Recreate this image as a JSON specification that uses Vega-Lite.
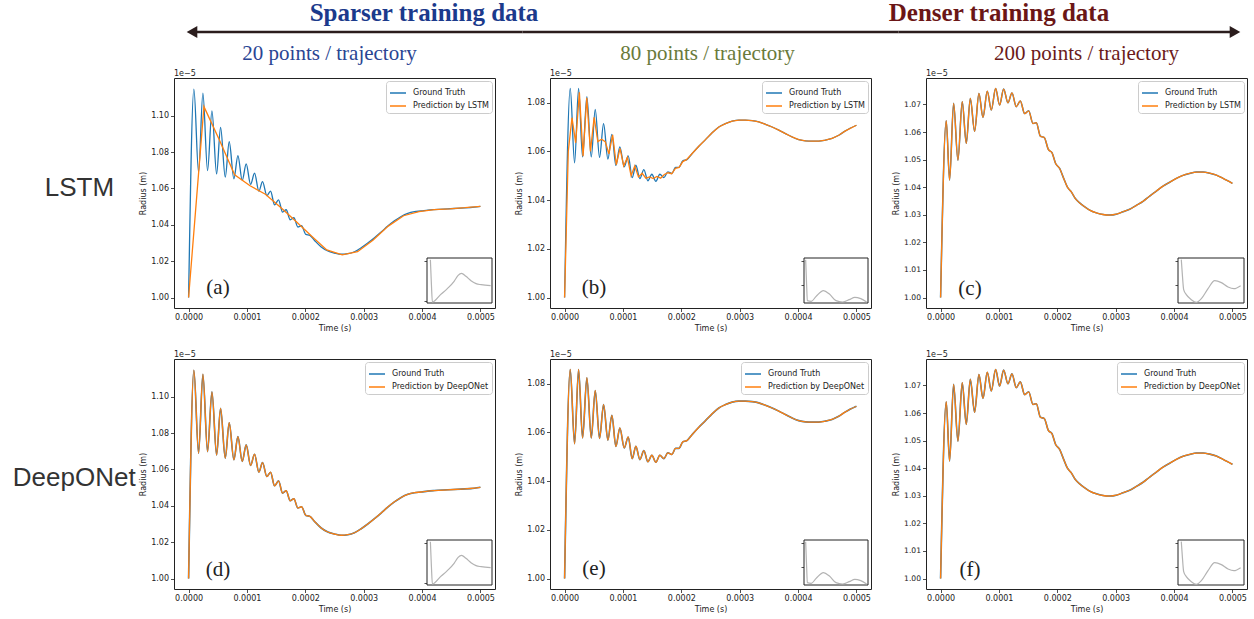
{
 "$schema": "https://vega.github.io/schema/vega-lite/v6.json",
 "padding": {"left": 12, "top": 0, "right": 0, "bottom": 0},
 "background": "white",
 "datasets": {
  "gt1": [
   {"t":0,"r":1.0},{"t":0.0000091,"r":1.1146},{"t":0.0000171,"r":1.0689},{"t":0.0000245,"r":1.1124},{"t":0.0000325,"r":1.0698},
   {"t":0.00004,"r":1.1027},{"t":0.000048,"r":1.068},{"t":0.0000548,"r":1.0936},{"t":0.0000628,"r":1.0662},{"t":0.0000696,"r":1.0857},
   {"t":0.0000776,"r":1.0653},{"t":0.0000845,"r":1.0781},{"t":0.0000919,"r":1.0644},{"t":0.0000987,"r":1.0735},{"t":0.0001062,"r":1.0622},
   {"t":0.000113,"r":1.0684},{"t":0.0001204,"r":1.0585},{"t":0.0001267,"r":1.0638},{"t":0.0001341,"r":1.0561},{"t":0.0001404,"r":1.0585},
   {"t":0.0001473,"r":1.051},{"t":0.0001541,"r":1.0537},{"t":0.000161,"r":1.047},{"t":0.0001672,"r":1.0483},{"t":0.0001741,"r":1.0428},
   {"t":0.0001804,"r":1.0439},{"t":0.0001872,"r":1.0388},{"t":0.0001935,"r":1.0395},{"t":0.0002009,"r":1.0347},{"t":0.0002078,"r":1.0342},
   {"t":0.0002158,"r":1.0314},{"t":0.0002272,"r":1.0278},{"t":0.0002386,"r":1.0256},{"t":0.00025,"r":1.0245},{"t":0.0002614,"r":1.0238},
   {"t":0.0002728,"r":1.0241},{"t":0.0002842,"r":1.0252},{"t":0.0002957,"r":1.0274},{"t":0.000307,"r":1.03},{"t":0.0003185,"r":1.0329},
   {"t":0.0003299,"r":1.036},{"t":0.0003413,"r":1.0393},{"t":0.0003527,"r":1.0422},{"t":0.0003642,"r":1.0446},{"t":0.0003756,"r":1.0463},
   {"t":0.000387,"r":1.0472},{"t":0.0003984,"r":1.0476},{"t":0.0004098,"r":1.0481},{"t":0.0004212,"r":1.0484},{"t":0.000444,"r":1.0488},
   {"t":0.0004669,"r":1.0492},{"t":0.0004897,"r":1.0497},{"t":0.0005,"r":1.0502}
  ],
  "lstm1": [
   {"t":0,"r":1.0},{"t":0.0000263,"r":1.105},{"t":0.0000526,"r":1.0868},{"t":0.0000789,"r":1.0675},{"t":0.0001053,"r":1.0615},
   {"t":0.0001316,"r":1.0568},{"t":0.0001579,"r":1.0495},{"t":0.0001842,"r":1.0418},{"t":0.0002105,"r":1.0338},{"t":0.0002368,"r":1.0262},
   {"t":0.0002632,"r":1.0235},{"t":0.0002895,"r":1.0252},{"t":0.0003158,"r":1.0315},{"t":0.0003421,"r":1.0393},{"t":0.0003684,"r":1.045},
   {"t":0.0003947,"r":1.0472},{"t":0.0004211,"r":1.0484},{"t":0.0004474,"r":1.0488},{"t":0.0004737,"r":1.0494},{"t":0.0005,"r":1.0502}
  ],
  "gt2": [
   {"t":0,"r":1.0},{"t":0.0000097,"r":1.0858},{"t":0.0000171,"r":1.0553},{"t":0.000024,"r":1.0858},{"t":0.0000308,"r":1.0577},
   {"t":0.0000382,"r":1.0824},{"t":0.0000457,"r":1.0577},{"t":0.0000525,"r":1.0772},{"t":0.0000599,"r":1.0575},{"t":0.0000668,"r":1.0714},
   {"t":0.0000742,"r":1.0568},{"t":0.000081,"r":1.067},{"t":0.0000879,"r":1.0542},{"t":0.0000947,"r":1.0618},{"t":0.0001022,"r":1.0536},
   {"t":0.000109,"r":1.0581},{"t":0.0001159,"r":1.0492},{"t":0.0001221,"r":1.0543},{"t":0.000129,"r":1.0488},{"t":0.0001358,"r":1.0525},
   {"t":0.0001427,"r":1.0479},{"t":0.0001495,"r":1.0506},{"t":0.0001564,"r":1.0477},{"t":0.0001632,"r":1.0506},{"t":0.0001701,"r":1.0492},
   {"t":0.0001769,"r":1.0516},{"t":0.0001838,"r":1.0509},{"t":0.00019,"r":1.0534},{"t":0.0001958,"r":1.0534},{"t":0.0002026,"r":1.0561},
   {"t":0.0002095,"r":1.0566},{"t":0.0002186,"r":1.0591},{"t":0.00023,"r":1.0621},{"t":0.0002414,"r":1.0648},{"t":0.0002528,"r":1.0676},
   {"t":0.0002643,"r":1.07},{"t":0.0002757,"r":1.0714},{"t":0.0002871,"r":1.0724},{"t":0.0002985,"r":1.0728},{"t":0.0003099,"r":1.0728},
   {"t":0.0003213,"r":1.0726},{"t":0.0003327,"r":1.0721},{"t":0.0003442,"r":1.0711},{"t":0.0003556,"r":1.07},{"t":0.000367,"r":1.0687},
   {"t":0.0003784,"r":1.0673},{"t":0.0003898,"r":1.0659},{"t":0.0004012,"r":1.0648},{"t":0.0004127,"r":1.0643},{"t":0.0004241,"r":1.0642},
   {"t":0.0004355,"r":1.0642},{"t":0.0004469,"r":1.0646},{"t":0.0004583,"r":1.0653},{"t":0.0004697,"r":1.0666},{"t":0.0004812,"r":1.0684},
   {"t":0.0005,"r":1.0707}
  ],
  "lstm2": [
   {"t":0,"r":1.0},{"t":0.00000633,"r":1.06},{"t":0.00001266,"r":1.0738},{"t":0.00001899,"r":1.0635},{"t":0.00002532,"r":1.0842},
   {"t":0.00003165,"r":1.058},{"t":0.00003797,"r":1.082},{"t":0.0000443,"r":1.06},{"t":0.00005063,"r":1.074},{"t":0.00005696,"r":1.064},
   {"t":0.00006329,"r":1.065},{"t":0.00006962,"r":1.064},{"t":0.00007595,"r":1.059},{"t":0.00008228,"r":1.0668},{"t":0.00008861,"r":1.0545},
   {"t":0.00009494,"r":1.0612},{"t":0.00010127,"r":1.054},{"t":0.00010759,"r":1.0575},{"t":0.00011392,"r":1.05},{"t":0.00012025,"r":1.054},
   {"t":0.00012658,"r":1.0495},{"t":0.00013291,"r":1.051},{"t":0.00013924,"r":1.049},{"t":0.00014557,"r":1.0495},{"t":0.0001519,"r":1.0488},
   {"t":0.00015823,"r":1.0497},{"t":0.00016456,"r":1.049},{"t":0.00017089,"r":1.0505},{"t":0.00017722,"r":1.0512},{"t":0.00018354,"r":1.0508},
   {"t":0.00018987,"r":1.053},{"t":0.0001962,"r":1.0534},{"t":0.00020253,"r":1.0558},{"t":0.00020886,"r":1.0566},
   {"t":0.0002186,"r":1.0591},{"t":0.00023,"r":1.0621},{"t":0.0002414,"r":1.0648},{"t":0.0002528,"r":1.0676},
   {"t":0.0002643,"r":1.07},{"t":0.0002757,"r":1.0714},{"t":0.0002871,"r":1.0724},{"t":0.0002985,"r":1.0728},{"t":0.0003099,"r":1.0728},
   {"t":0.0003213,"r":1.0726},{"t":0.0003327,"r":1.0721},{"t":0.0003442,"r":1.0711},{"t":0.0003556,"r":1.07},{"t":0.000367,"r":1.0687},
   {"t":0.0003784,"r":1.0673},{"t":0.0003898,"r":1.0659},{"t":0.0004012,"r":1.0648},{"t":0.0004127,"r":1.0643},{"t":0.0004241,"r":1.0642},
   {"t":0.0004355,"r":1.0642},{"t":0.0004469,"r":1.0646},{"t":0.0004583,"r":1.0653},{"t":0.0004697,"r":1.0666},{"t":0.0004812,"r":1.0684},
   {"t":0.0005,"r":1.0707}
  ],
  "gt3": [
   {"t":0,"r":1.0},{"t":0.0000097,"r":1.0641},{"t":0.0000154,"r":1.0426},{"t":0.0000223,"r":1.0704},{"t":0.0000297,"r":1.0498},
   {"t":0.0000371,"r":1.071},{"t":0.000044,"r":1.0559},{"t":0.0000509,"r":1.0722},{"t":0.0000583,"r":1.0603},{"t":0.0000657,"r":1.074},
   {"t":0.0000726,"r":1.0653},{"t":0.00008,"r":1.0748},{"t":0.0000869,"r":1.068},{"t":0.0000943,"r":1.0758},{"t":0.0001011,"r":1.0698},
   {"t":0.000108,"r":1.0756},{"t":0.0001154,"r":1.0706},{"t":0.0001223,"r":1.0742},{"t":0.0001297,"r":1.0692},{"t":0.0001366,"r":1.0713},
   {"t":0.000144,"r":1.0667},{"t":0.0001509,"r":1.0677},{"t":0.0001583,"r":1.0631},{"t":0.000164,"r":1.0634},{"t":0.0001709,"r":1.0585},
   {"t":0.0001777,"r":1.058},{"t":0.0001846,"r":1.0537},{"t":0.0001909,"r":1.0525},{"t":0.0001971,"r":1.0486},{"t":0.000204,"r":1.0468},
   {"t":0.0002109,"r":1.0432},{"t":0.0002171,"r":1.0401},{"t":0.000224,"r":1.0383},{"t":0.0002309,"r":1.0359},{"t":0.0002383,"r":1.0343},
   {"t":0.0002469,"r":1.0329},{"t":0.0002554,"r":1.0317},{"t":0.0002669,"r":1.0307},{"t":0.0002783,"r":1.0301},{"t":0.0002897,"r":1.0299},
   {"t":0.0003011,"r":1.0302},{"t":0.0003126,"r":1.0311},{"t":0.000324,"r":1.032},{"t":0.0003354,"r":1.0334},{"t":0.0003469,"r":1.0349},
   {"t":0.0003583,"r":1.0368},{"t":0.0003697,"r":1.0386},{"t":0.0003811,"r":1.0404},{"t":0.0003926,"r":1.0418},{"t":0.000404,"r":1.0432},
   {"t":0.0004154,"r":1.0443},{"t":0.0004269,"r":1.045},{"t":0.0004383,"r":1.0455},{"t":0.0004497,"r":1.0455},{"t":0.0004611,"r":1.0451},
   {"t":0.0004726,"r":1.0444},{"t":0.000484,"r":1.0432},{"t":0.0005,"r":1.0414}
  ],
  "ins1": [
   {"u":0.052,"v":0.963},{"u":0.068,"v":0.41},{"u":0.083,"v":0.02},{"u":0.208,"v":0.185},{"u":0.3125,"v":0.319},{"u":0.417,"v":0.481},
   {"u":0.479,"v":0.615},{"u":0.531,"v":0.659},{"u":0.599,"v":0.593},{"u":0.677,"v":0.496},{"u":0.755,"v":0.43},{"u":0.833,"v":0.407},{"u":0.979,"v":0.385}
  ],
  "ins2": [
   {"u":0.026,"v":0.963},{"u":0.041,"v":0.407},{"u":0.052,"v":0.052},{"u":0.113,"v":0.037},{"u":0.19,"v":0.148},{"u":0.304,"v":0.274},
   {"u":0.397,"v":0.2},{"u":0.5,"v":0.052},{"u":0.603,"v":0.022},{"u":0.707,"v":0.074},{"u":0.794,"v":0.126},{"u":0.887,"v":0.096},{"u":0.979,"v":0.022}
  ],
  "ins3": [
   {"u":0.05,"v":0.963},{"u":0.066,"v":0.63},{"u":0.086,"v":0.296},{"u":0.126,"v":0.185},{"u":0.202,"v":0.074},{"u":0.278,"v":0.015},
   {"u":0.354,"v":0.096},{"u":0.455,"v":0.319},{"u":0.556,"v":0.496},{"u":0.657,"v":0.452},{"u":0.758,"v":0.356},{"u":0.848,"v":0.319},{"u":0.949,"v":0.385}
  ]
 },
 "config": {
  "font": "DejaVu Sans",
  "view": {"stroke": "#222222", "strokeWidth": 1},
  "axis": {"domain": false, "grid": false, "ticks": true, "tickColor": "#222222", "tickSize": 3.5, "tickWidth": 0.8,
           "labelFont": "DejaVu Sans", "labelFontSize": 8, "labelColor": "#222222", "labelPadding": 2,
           "titleFont": "DejaVu Sans", "titleFontSize": 8, "titleFontWeight": "normal", "titleColor": "#222222", "titlePadding": 3,
           "labelFlush": false, "labelOverlap": false, "labelSeparation": 0},
  "axisY": {"labelOverlap": false},
  "axisLeft": {"labelOverlap": false},
  "axisQuantitative": {"labelOverlap": false},
  "legend": {"orient": "top-right", "offset": 3, "symbolType": "stroke", "symbolSize": 256, "symbolStrokeWidth": 1.5,
             "labelFont": "DejaVu Sans", "labelFontSize": 8, "labelColor": "#222222", "labelOffset": 6, "padding": 3, "rowPadding": -2,
             "fillColor": "rgba(255,255,255,0.85)", "strokeColor": "#cccccc", "cornerRadius": 3}
 },
 "bounds": "flush",
 "columns": 3,
 "spacing": {"row": 51, "column": 55},
 "resolve": {"scale": {"color": "independent"}},
 "concat": [
  {
   "width": 321, "height": 26,
   "view": {"stroke": null},
   "data": {"values": [{}]},
   "layer": [
    {"mark": {"type": "rule", "color": "#2b1d1d", "strokeWidth": 2.5},
     "encoding": {"x": {"datum": 0.0561, "type": "quantitative", "scale": {"domain": [0, 1], "nice": false, "zero": false}, "axis": null},
                  "x2": {"datum": 1.0857},
                  "y": {"datum": -0.1923, "type": "quantitative", "scale": {"domain": [0, 1], "nice": false, "zero": false}, "axis": null}}},
    {"mark": {"type": "point", "shape": "triangle-left", "filled": true, "size": 150, "color": "#2b1d1d", "opacity": 1},
     "encoding": {"x": {"datum": 0.0561, "type": "quantitative"}, "y": {"datum": -0.1923, "type": "quantitative"}}},
    {"mark": {"type": "text", "font": "Liberation Serif", "fontWeight": "bold", "fontSize": 25, "color": "#1b3a8c", "align": "center", "baseline": "alphabetic"},
     "encoding": {"x": {"datum": 0.7788, "type": "quantitative"}, "y": {"datum": 0.25, "type": "quantitative"}, "text": {"value": "Sparser training data"}}},
    {"mark": {"type": "text", "font": "Liberation Serif", "fontSize": 21, "color": "#2a4593", "align": "center", "baseline": "alphabetic"},
     "encoding": {"x": {"datum": 0.4844, "type": "quantitative"}, "y": {"datum": -1.25, "type": "quantitative"}, "text": {"value": "20 points / trajectory"}}}
   ]
  },
  {
   "width": 321, "height": 26,
   "view": {"stroke": null},
   "data": {"values": [{}]},
   "layer": [
    {"mark": {"type": "rule", "color": "#2b1d1d", "strokeWidth": 2.5},
     "encoding": {"x": {"datum": -0.0857, "type": "quantitative", "scale": {"domain": [0, 1], "nice": false, "zero": false}, "axis": null},
                  "x2": {"datum": 1.0857},
                  "y": {"datum": -0.1923, "type": "quantitative", "scale": {"domain": [0, 1], "nice": false, "zero": false}, "axis": null}}},
    {"mark": {"type": "text", "font": "Liberation Serif", "fontSize": 21, "color": "#6a7a3a", "align": "center", "baseline": "alphabetic"},
     "encoding": {"x": {"datum": 0.4907, "type": "quantitative"}, "y": {"datum": -1.25, "type": "quantitative"}, "text": {"value": "80 points / trajectory"}}}
   ]
  },
  {
   "width": 321, "height": 26,
   "view": {"stroke": null},
   "data": {"values": [{}]},
   "layer": [
    {"mark": {"type": "rule", "color": "#2b1d1d", "strokeWidth": 2.5},
     "encoding": {"x": {"datum": -0.0857, "type": "quantitative", "scale": {"domain": [0, 1], "nice": false, "zero": false}, "axis": null},
                  "x2": {"datum": 0.9626},
                  "y": {"datum": -0.1923, "type": "quantitative", "scale": {"domain": [0, 1], "nice": false, "zero": false}, "axis": null}}},
    {"mark": {"type": "point", "shape": "triangle-right", "filled": true, "size": 150, "color": "#2b1d1d", "opacity": 1},
     "encoding": {"x": {"datum": 0.9626, "type": "quantitative"}, "y": {"datum": -0.1923, "type": "quantitative"}}},
    {"mark": {"type": "text", "font": "Liberation Serif", "fontWeight": "bold", "fontSize": 25, "color": "#6b1616", "align": "center", "baseline": "alphabetic"},
     "encoding": {"x": {"datum": 0.2274, "type": "quantitative"}, "y": {"datum": 0.25, "type": "quantitative"}, "text": {"value": "Denser training data"}}},
    {"mark": {"type": "text", "font": "Liberation Serif", "fontSize": 21, "color": "#6b1a1a", "align": "center", "baseline": "alphabetic"},
     "encoding": {"x": {"datum": 0.5, "type": "quantitative"}, "y": {"datum": -1.25, "type": "quantitative"}, "text": {"value": "200 points / trajectory"}}}
   ]
  },
  {
   "width": 321, "height": 230,
   "resolve": {"scale": {"x": "independent", "y": "independent"}},
   "layer": [
    {"layer": [
      {"data": {"name": "gt1"}, "mark": {"type": "line", "interpolate": "monotone", "strokeWidth": 1.3},
       "encoding": {"x": {"field": "t", "type": "quantitative", "scale": {"domain": [-0.000025, 0.000525], "nice": false, "zero": false}, "axis": {"values": [0, 0.0001, 0.0002, 0.0003, 0.0004, 0.0005], "format": ".4f", "title": "Time (s)"}},
                    "y": {"field": "r", "type": "quantitative", "scale": {"domain": [0.99425, 1.12075], "nice": false, "zero": false}, "axis": {"values": [1, 1.02, 1.04, 1.06, 1.08, 1.1], "format": ".2f", "title": "Radius (m)", "labelOverlap": false}},
                    "color": {"datum": "Ground Truth", "type": "nominal", "scale": {"domain": ["Ground Truth", "Prediction by LSTM"], "range": ["#1f77b4", "#ff7f0e"]}, "legend": {"title": null}}}},
      {"data": {"name": "lstm1"}, "mark": {"type": "line", "strokeWidth": 1.3},
       "encoding": {"x": {"field": "t", "type": "quantitative"}, "y": {"field": "r", "type": "quantitative"}, "color": {"datum": "Prediction by LSTM", "type": "nominal"}}},
      {"data": {"values": [{}]}, "mark": {"type": "text", "font": "Liberation Serif", "fontSize": 21, "color": "#222222", "align": "center", "baseline": "alphabetic"},
       "encoding": {"x": {"datum": 0.0000504, "type": "quantitative"}, "y": {"datum": 1.00195, "type": "quantitative"}, "text": {"value": "(a)"}}},
      {"data": {"values": [{}]}, "mark": {"type": "text", "fontSize": 8, "color": "#222222", "align": "left", "baseline": "alphabetic", "dy": -2},
       "encoding": {"x": {"datum": -0.000025, "type": "quantitative"}, "y": {"datum": 1.12075, "type": "quantitative"}, "text": {"value": "1e−5"}}},
      {"data": {"values": [{}]}, "mark": {"type": "text", "font": "Liberation Sans", "fontSize": 26, "color": "#333333", "align": "center", "baseline": "alphabetic"},
       "encoding": {"x": {"datum": -0.000187, "type": "quantitative"}, "y": {"datum": 1.05585, "type": "quantitative"}, "text": {"value": "LSTM"}}}
    ]},
    {"layer": [
      {"data": {"values": [{}]}, "mark": {"type": "rect", "fill": "white", "stroke": "#222222", "strokeWidth": 1},
       "encoding": {"x": {"datum": 0, "type": "quantitative", "scale": {"domain": [0, 1], "range": [253, 318], "nice": false, "zero": false}, "axis": null},
                    "x2": {"datum": 1},
                    "y": {"datum": 0, "type": "quantitative", "scale": {"domain": [0, 1], "range": [225, 180], "nice": false, "zero": false}, "axis": {"orient": "left", "offset": -253, "values": [0.037, 0.926], "labels": false, "title": null, "tickSize": 3}},
                    "y2": {"datum": 1}}},
      {"data": {"name": "ins1"}, "mark": {"type": "line", "interpolate": "monotone", "color": "#b3b3b3", "strokeWidth": 1.2},
       "encoding": {"x": {"field": "u", "type": "quantitative"}, "y": {"field": "v", "type": "quantitative"}}}
    ]}
   ]
  },
  {
   "width": 321, "height": 230,
   "resolve": {"scale": {"x": "independent", "y": "independent"}},
   "layer": [
    {"layer": [
      {"data": {"name": "gt2"}, "mark": {"type": "line", "interpolate": "monotone", "strokeWidth": 1.3},
       "encoding": {"x": {"field": "t", "type": "quantitative", "scale": {"domain": [-0.000025, 0.000525], "nice": false, "zero": false}, "axis": {"values": [0, 0.0001, 0.0002, 0.0003, 0.0004, 0.0005], "format": ".4f", "title": "Time (s)"}},
                    "y": {"field": "r", "type": "quantitative", "scale": {"domain": [0.9957, 1.0901], "nice": false, "zero": false}, "axis": {"values": [1, 1.02, 1.04, 1.06, 1.08], "format": ".2f", "title": "Radius (m)", "labelOverlap": false}},
                    "color": {"datum": "Ground Truth", "type": "nominal", "scale": {"domain": ["Ground Truth", "Prediction by LSTM"], "range": ["#1f77b4", "#ff7f0e"]}, "legend": {"title": null}}}},
      {"data": {"name": "lstm2"}, "mark": {"type": "line", "strokeWidth": 1.3},
       "encoding": {"x": {"field": "t", "type": "quantitative"}, "y": {"field": "r", "type": "quantitative"}, "color": {"datum": "Prediction by LSTM", "type": "nominal"}}},
      {"data": {"values": [{}]}, "mark": {"type": "text", "font": "Liberation Serif", "fontSize": 21, "color": "#222222", "align": "center", "baseline": "alphabetic"},
       "encoding": {"x": {"datum": 0.0000504, "type": "quantitative"}, "y": {"datum": 1.00145, "type": "quantitative"}, "text": {"value": "(b)"}}},
      {"data": {"values": [{}]}, "mark": {"type": "text", "fontSize": 8, "color": "#222222", "align": "left", "baseline": "alphabetic", "dy": -2},
       "encoding": {"x": {"datum": -0.000025, "type": "quantitative"}, "y": {"datum": 1.0901, "type": "quantitative"}, "text": {"value": "1e−5"}}}
    ]},
    {"layer": [
      {"data": {"values": [{}]}, "mark": {"type": "rect", "fill": "white", "stroke": "#222222", "strokeWidth": 1},
       "encoding": {"x": {"datum": 0, "type": "quantitative", "scale": {"domain": [0, 1], "range": [254, 318], "nice": false, "zero": false}, "axis": null},
                    "x2": {"datum": 1},
                    "y": {"datum": 0, "type": "quantitative", "scale": {"domain": [0, 1], "range": [225, 180], "nice": false, "zero": false}, "axis": {"orient": "left", "offset": -254, "values": [0.407, 0.926], "labels": false, "title": null, "tickSize": 3}},
                    "y2": {"datum": 1}}},
      {"data": {"name": "ins2"}, "mark": {"type": "line", "interpolate": "monotone", "color": "#b3b3b3", "strokeWidth": 1.2},
       "encoding": {"x": {"field": "u", "type": "quantitative"}, "y": {"field": "v", "type": "quantitative"}}}
    ]}
   ]
  },
  {
   "width": 321, "height": 230,
   "resolve": {"scale": {"x": "independent", "y": "independent"}},
   "layer": [
    {"layer": [
      {"data": {"name": "gt3"}, "mark": {"type": "line", "interpolate": "monotone", "strokeWidth": 1.5},
       "encoding": {"x": {"field": "t", "type": "quantitative", "scale": {"domain": [-0.000025, 0.000525], "nice": false, "zero": false}, "axis": {"values": [0, 0.0001, 0.0002, 0.0003, 0.0004, 0.0005], "format": ".4f", "title": "Time (s)"}},
                    "y": {"field": "r", "type": "quantitative", "scale": {"domain": [0.9962, 1.0796], "nice": false, "zero": false}, "axis": {"tickCount": 8, "values": [1, 1.01, 1.02, 1.03, 1.04, 1.05, 1.06, 1.07], "format": ".2f", "title": "Radius (m)", "labelOverlap": false, "labelSeparation": 0, "labelFontSize": 7.6}},
                    "color": {"datum": "Ground Truth", "type": "nominal", "scale": {"domain": ["Ground Truth", "Prediction by LSTM"], "range": ["#1f77b4", "#ff7f0e"]}, "legend": {"title": null}}}},
      {"data": {"name": "gt3"}, "mark": {"type": "line", "interpolate": "monotone", "strokeWidth": 1.3},
       "encoding": {"x": {"field": "t", "type": "quantitative"}, "y": {"field": "r", "type": "quantitative"}, "color": {"datum": "Prediction by LSTM", "type": "nominal"}}},
      {"data": {"values": [{}]}, "mark": {"type": "text", "font": "Liberation Serif", "fontSize": 21, "color": "#222222", "align": "center", "baseline": "alphabetic"},
       "encoding": {"x": {"datum": 0.0000504, "type": "quantitative"}, "y": {"datum": 1.00081, "type": "quantitative"}, "text": {"value": "(c)"}}},
      {"data": {"values": [{}]}, "mark": {"type": "text", "fontSize": 8, "color": "#222222", "align": "left", "baseline": "alphabetic", "dy": -2},
       "encoding": {"x": {"datum": -0.000025, "type": "quantitative"}, "y": {"datum": 1.0796, "type": "quantitative"}, "text": {"value": "1e−5"}}}
    ]},
    {"layer": [
      {"data": {"values": [{}]}, "mark": {"type": "rect", "fill": "white", "stroke": "#222222", "strokeWidth": 1},
       "encoding": {"x": {"datum": 0, "type": "quantitative", "scale": {"domain": [0, 1], "range": [252, 318], "nice": false, "zero": false}, "axis": null},
                    "x2": {"datum": 1},
                    "y": {"datum": 0, "type": "quantitative", "scale": {"domain": [0, 1], "range": [225, 180], "nice": false, "zero": false}, "axis": {"orient": "left", "offset": -252, "values": [0.407, 0.926], "labels": false, "title": null, "tickSize": 3}},
                    "y2": {"datum": 1}}},
      {"data": {"name": "ins3"}, "mark": {"type": "line", "interpolate": "monotone", "color": "#b3b3b3", "strokeWidth": 1.2},
       "encoding": {"x": {"field": "u", "type": "quantitative"}, "y": {"field": "v", "type": "quantitative"}}}
    ]}
   ]
  },
  {
   "width": 321, "height": 230,
   "resolve": {"scale": {"x": "independent", "y": "independent"}},
   "layer": [
    {"layer": [
      {"data": {"name": "gt1"}, "mark": {"type": "line", "interpolate": "monotone", "strokeWidth": 1.6},
       "encoding": {"x": {"field": "t", "type": "quantitative", "scale": {"domain": [-0.000025, 0.000525], "nice": false, "zero": false}, "axis": {"values": [0, 0.0001, 0.0002, 0.0003, 0.0004, 0.0005], "format": ".4f", "title": "Time (s)"}},
                    "y": {"field": "r", "type": "quantitative", "scale": {"domain": [0.99425, 1.12075], "nice": false, "zero": false}, "axis": {"values": [1, 1.02, 1.04, 1.06, 1.08, 1.1], "format": ".2f", "title": "Radius (m)", "labelOverlap": false}},
                    "color": {"datum": "Ground Truth", "type": "nominal", "scale": {"domain": ["Ground Truth", "Prediction by DeepONet"], "range": ["#1f77b4", "#ff7f0e"]}, "legend": {"title": null}}}},
      {"data": {"name": "gt1"}, "mark": {"type": "line", "interpolate": "monotone", "strokeWidth": 1.3},
       "encoding": {"x": {"field": "t", "type": "quantitative"}, "y": {"field": "r", "type": "quantitative"}, "color": {"datum": "Prediction by DeepONet", "type": "nominal"}}},
      {"data": {"values": [{}]}, "mark": {"type": "text", "font": "Liberation Serif", "fontSize": 21, "color": "#222222", "align": "center", "baseline": "alphabetic"},
       "encoding": {"x": {"datum": 0.0000504, "type": "quantitative"}, "y": {"datum": 1.0014, "type": "quantitative"}, "text": {"value": "(d)"}}},
      {"data": {"values": [{}]}, "mark": {"type": "text", "fontSize": 8, "color": "#222222", "align": "left", "baseline": "alphabetic", "dy": -2},
       "encoding": {"x": {"datum": -0.000025, "type": "quantitative"}, "y": {"datum": 1.12075, "type": "quantitative"}, "text": {"value": "1e−5"}}},
      {"data": {"values": [{}]}, "mark": {"type": "text", "font": "Liberation Sans", "fontSize": 26, "color": "#333333", "align": "center", "baseline": "alphabetic"},
       "encoding": {"x": {"datum": -0.000196, "type": "quantitative"}, "y": {"datum": 1.0509, "type": "quantitative"}, "text": {"value": "DeepONet"}}}
    ]},
    {"layer": [
      {"data": {"values": [{}]}, "mark": {"type": "rect", "fill": "white", "stroke": "#222222", "strokeWidth": 1},
       "encoding": {"x": {"datum": 0, "type": "quantitative", "scale": {"domain": [0, 1], "range": [253, 318], "nice": false, "zero": false}, "axis": null},
                    "x2": {"datum": 1},
                    "y": {"datum": 0, "type": "quantitative", "scale": {"domain": [0, 1], "range": [226, 181], "nice": false, "zero": false}, "axis": {"orient": "left", "offset": -253, "values": [0.037, 0.926], "labels": false, "title": null, "tickSize": 3}},
                    "y2": {"datum": 1}}},
      {"data": {"name": "ins1"}, "mark": {"type": "line", "interpolate": "monotone", "color": "#b3b3b3", "strokeWidth": 1.2},
       "encoding": {"x": {"field": "u", "type": "quantitative"}, "y": {"field": "v", "type": "quantitative"}}}
    ]}
   ]
  },
  {
   "width": 321, "height": 230,
   "resolve": {"scale": {"x": "independent", "y": "independent"}},
   "layer": [
    {"layer": [
      {"data": {"name": "gt2"}, "mark": {"type": "line", "interpolate": "monotone", "strokeWidth": 1.6},
       "encoding": {"x": {"field": "t", "type": "quantitative", "scale": {"domain": [-0.000025, 0.000525], "nice": false, "zero": false}, "axis": {"values": [0, 0.0001, 0.0002, 0.0003, 0.0004, 0.0005], "format": ".4f", "title": "Time (s)"}},
                    "y": {"field": "r", "type": "quantitative", "scale": {"domain": [0.9957, 1.0901], "nice": false, "zero": false}, "axis": {"values": [1, 1.02, 1.04, 1.06, 1.08], "format": ".2f", "title": "Radius (m)", "labelOverlap": false}},
                    "color": {"datum": "Ground Truth", "type": "nominal", "scale": {"domain": ["Ground Truth", "Prediction by DeepONet"], "range": ["#1f77b4", "#ff7f0e"]}, "legend": {"title": null}}}},
      {"data": {"name": "gt2"}, "mark": {"type": "line", "interpolate": "monotone", "strokeWidth": 1.3},
       "encoding": {"x": {"field": "t", "type": "quantitative"}, "y": {"field": "r", "type": "quantitative"}, "color": {"datum": "Prediction by DeepONet", "type": "nominal"}}},
      {"data": {"values": [{}]}, "mark": {"type": "text", "font": "Liberation Serif", "fontSize": 21, "color": "#222222", "align": "center", "baseline": "alphabetic"},
       "encoding": {"x": {"datum": 0.0000504, "type": "quantitative"}, "y": {"datum": 1.00133, "type": "quantitative"}, "text": {"value": "(e)"}}},
      {"data": {"values": [{}]}, "mark": {"type": "text", "fontSize": 8, "color": "#222222", "align": "left", "baseline": "alphabetic", "dy": -2},
       "encoding": {"x": {"datum": -0.000025, "type": "quantitative"}, "y": {"datum": 1.0901, "type": "quantitative"}, "text": {"value": "1e−5"}}}
    ]},
    {"layer": [
      {"data": {"values": [{}]}, "mark": {"type": "rect", "fill": "white", "stroke": "#222222", "strokeWidth": 1},
       "encoding": {"x": {"datum": 0, "type": "quantitative", "scale": {"domain": [0, 1], "range": [254, 318], "nice": false, "zero": false}, "axis": null},
                    "x2": {"datum": 1},
                    "y": {"datum": 0, "type": "quantitative", "scale": {"domain": [0, 1], "range": [226, 181], "nice": false, "zero": false}, "axis": {"orient": "left", "offset": -254, "values": [0.407, 0.926], "labels": false, "title": null, "tickSize": 3}},
                    "y2": {"datum": 1}}},
      {"data": {"name": "ins2"}, "mark": {"type": "line", "interpolate": "monotone", "color": "#b3b3b3", "strokeWidth": 1.2},
       "encoding": {"x": {"field": "u", "type": "quantitative"}, "y": {"field": "v", "type": "quantitative"}}}
    ]}
   ]
  },
  {
   "width": 321, "height": 230,
   "resolve": {"scale": {"x": "independent", "y": "independent"}},
   "layer": [
    {"layer": [
      {"data": {"name": "gt3"}, "mark": {"type": "line", "interpolate": "monotone", "strokeWidth": 1.6},
       "encoding": {"x": {"field": "t", "type": "quantitative", "scale": {"domain": [-0.000025, 0.000525], "nice": false, "zero": false}, "axis": {"values": [0, 0.0001, 0.0002, 0.0003, 0.0004, 0.0005], "format": ".4f", "title": "Time (s)"}},
                    "y": {"field": "r", "type": "quantitative", "scale": {"domain": [0.9962, 1.0796], "nice": false, "zero": false}, "axis": {"tickCount": 8, "values": [1, 1.01, 1.02, 1.03, 1.04, 1.05, 1.06, 1.07], "format": ".2f", "title": "Radius (m)", "labelOverlap": false, "labelSeparation": 0, "labelFontSize": 7.6}},
                    "color": {"datum": "Ground Truth", "type": "nominal", "scale": {"domain": ["Ground Truth", "Prediction by DeepONet"], "range": ["#1f77b4", "#ff7f0e"]}, "legend": {"title": null}}}},
      {"data": {"name": "gt3"}, "mark": {"type": "line", "interpolate": "monotone", "strokeWidth": 1.3},
       "encoding": {"x": {"field": "t", "type": "quantitative"}, "y": {"field": "r", "type": "quantitative"}, "color": {"datum": "Prediction by DeepONet", "type": "nominal"}}},
      {"data": {"values": [{}]}, "mark": {"type": "text", "font": "Liberation Serif", "fontSize": 21, "color": "#222222", "align": "center", "baseline": "alphabetic"},
       "encoding": {"x": {"datum": 0.0000504, "type": "quantitative"}, "y": {"datum": 1.00092, "type": "quantitative"}, "text": {"value": "(f)"}}},
      {"data": {"values": [{}]}, "mark": {"type": "text", "fontSize": 8, "color": "#222222", "align": "left", "baseline": "alphabetic", "dy": -2},
       "encoding": {"x": {"datum": -0.000025, "type": "quantitative"}, "y": {"datum": 1.0796, "type": "quantitative"}, "text": {"value": "1e−5"}}}
    ]},
    {"layer": [
      {"data": {"values": [{}]}, "mark": {"type": "rect", "fill": "white", "stroke": "#222222", "strokeWidth": 1},
       "encoding": {"x": {"datum": 0, "type": "quantitative", "scale": {"domain": [0, 1], "range": [252, 318], "nice": false, "zero": false}, "axis": null},
                    "x2": {"datum": 1},
                    "y": {"datum": 0, "type": "quantitative", "scale": {"domain": [0, 1], "range": [226, 181], "nice": false, "zero": false}, "axis": {"orient": "left", "offset": -252, "values": [0.407, 0.926], "labels": false, "title": null, "tickSize": 3}},
                    "y2": {"datum": 1}}},
      {"data": {"name": "ins3"}, "mark": {"type": "line", "interpolate": "monotone", "color": "#b3b3b3", "strokeWidth": 1.2},
       "encoding": {"x": {"field": "u", "type": "quantitative"}, "y": {"field": "v", "type": "quantitative"}}}
    ]}
   ]
  }
 ]
}
